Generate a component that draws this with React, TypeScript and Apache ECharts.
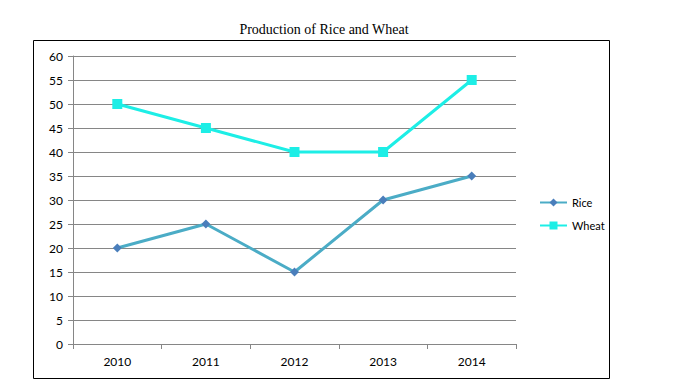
import React, { useEffect, useRef } from "react";
import * as echarts from "echarts";

const categories = ["2010", "2011", "2012", "2013", "2014"];
const rice = [20, 25, 15, 30, 35];
const wheat = [50, 45, 40, 40, 55];

export default function App() {
  const ref = useRef<HTMLDivElement>(null);
  useEffect(() => {
    document.body.style.margin = "0";
    const chart = echarts.init(ref.current!, null, { renderer: "svg" });
    const font = "Lato, 'Open Sans', sans-serif";
    chart.setOption({
      animation: false,
      backgroundColor: "#ffffff",
      title: {
        text: "Production of Rice and Wheat",
        left: 319,
        textAlign: "center",
        top: 17,
        textStyle: { fontFamily: "'Liberation Serif', 'Times New Roman', serif", fontSize: 14, fontWeight: "normal", color: "#000" },
      },
      graphic: [
        {
          type: "rect",
          shape: { x: 33.5, y: 40.5, width: 576, height: 338 },
          style: { fill: "none", stroke: "#000", lineWidth: 1 },
          silent: true,
        },
      ],
      legend: {
        orient: "vertical",
        left: 534,
        top: 192,
        itemGap: 12,
        itemWidth: 27,
        itemHeight: 10,
        textStyle: { fontFamily: font, fontSize: 11, color: "#000" },
        data: ["Rice", "Wheat"],
      },
      grid: { left: 73, top: 56, width: 443, height: 288 },
      xAxis: {
        type: "category",
        data: categories,
        boundaryGap: true,
        axisLine: { lineStyle: { color: "#868686" } },
        axisTick: { show: true, length: 5, lineStyle: { color: "#868686" } },
        axisLabel: { fontFamily: font, fontSize: 12, color: "#000", margin: 11 },
      },
      yAxis: {
        type: "value",
        min: 0,
        max: 60,
        interval: 5,
        axisLine: { show: true, lineStyle: { color: "#868686" } },
        axisTick: { show: true, length: 5, lineStyle: { color: "#868686" } },
        axisLabel: { fontFamily: font, fontSize: 12, color: "#000", margin: 10 },
        splitLine: { lineStyle: { color: "#868686" } },
      },
      series: [
        {
          name: "Rice",
          type: "line",
          data: rice,
          symbol: "diamond",
          symbolSize: 9,
          lineStyle: { color: "#4BACC6", width: 3 },
          itemStyle: { color: "#4A7EBB" },
        },
        {
          name: "Wheat",
          type: "line",
          data: wheat,
          symbol: "rect",
          symbolSize: 10,
          lineStyle: { color: "#1DEEE6", width: 3 },
          itemStyle: { color: "#1DEEE6" },
        },
      ],
    });
    return () => chart.dispose();
  }, []);
  return <div ref={ref} style={{ width: 673, height: 389 }} />;
}
